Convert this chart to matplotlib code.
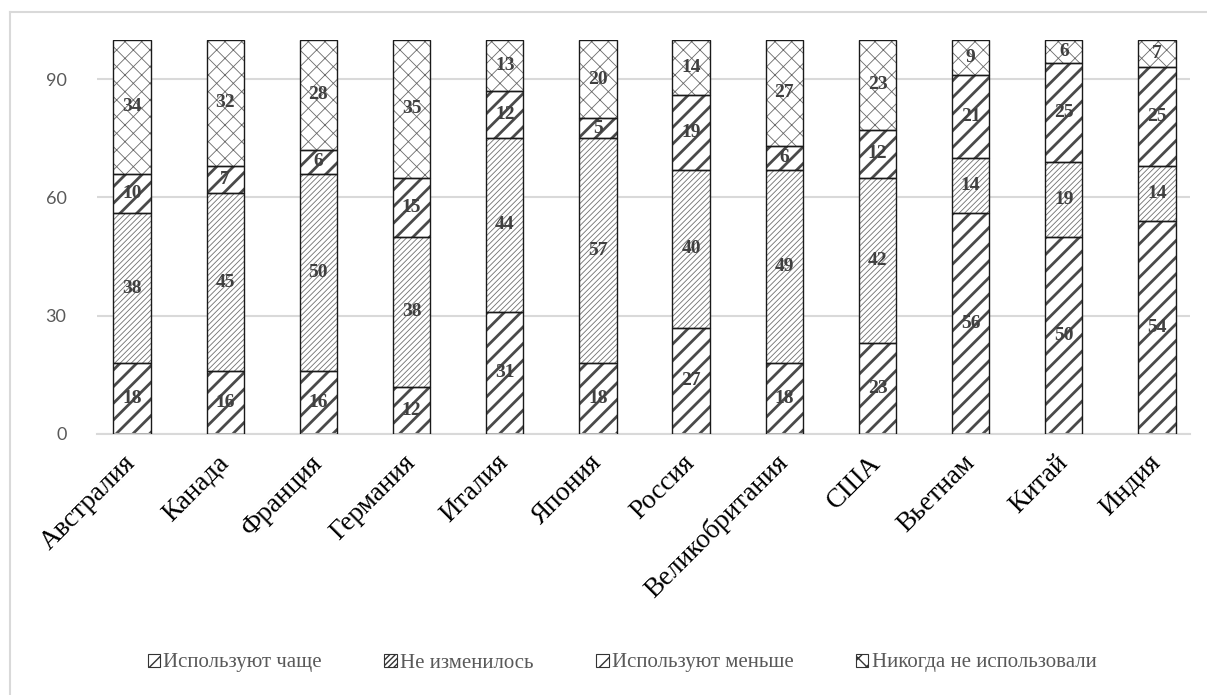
# -*- coding: utf-8 -*-
# stacked hatched bars: change in usage by country
import numpy as np
import matplotlib
matplotlib.use('Agg')
import matplotlib.pyplot as plt
import matplotlib.patches as mpatches
from matplotlib.lines import Line2D

countries = ['Австралия', 'Канада', 'Франция', 'Германия', 'Италия', 'Япония',
             'Россия', 'Великобритания', 'США', 'Вьетнам', 'Китай', 'Индия']
more_often = [18, 16, 16, 12, 31, 18, 27, 18, 23, 56, 50, 54]
unchanged = [38, 45, 50, 38, 44, 57, 40, 49, 42, 14, 19, 14]
less_often = [10, 7, 6, 15, 12, 5, 19, 6, 12, 21, 25, 25]
never_used = [34, 32, 28, 35, 13, 20, 14, 27, 23, 9, 6, 7]
series_names = ['Используют чаще', 'Не изменилось', 'Используют меньше',
                'Никогда не использовали']
y_ticks = [0, 30, 60, 90]

series = [more_often, unchanged, less_often, never_used]
hatches = ['//', '//////', '//', 'xx']
hatch_colors = ['#4a4a4a', '#707070', '#4a4a4a', '#6a6a6a']
hatch_widths = [2.0, 0.6, 2.0, 0.6]

serif = 'Liberation Serif'

fig = plt.figure(figsize=(12.07, 6.95), dpi=100)
ax = fig.add_axes([97/1207, 1-434/695, 1093/1207, (434-39.6)/695])

x = np.arange(len(countries))
width = 0.4
bottom = np.zeros(len(countries))
for vals, h, hc, hw in zip(series, hatches, hatch_colors, hatch_widths):
    vals = np.array(vals)
    bars = ax.bar(x, vals, width, bottom=bottom, color='white',
                  edgecolor=hc, linewidth=0, hatch=h, zorder=2)
    for b in bars:
        if hasattr(b, 'set_hatch_linewidth'):
            b.set_hatch_linewidth(hw)
    # outlines
    ax.bar(x, vals, width, bottom=bottom, fill=False, edgecolor='#1a1a1a',
           linewidth=1.0, zorder=3)
    for xi, v, b0 in zip(x, vals, bottom):
        ax.text(xi, b0 + v/2, str(v), ha='center', va='center', fontsize=14,
                fontweight='bold', family=serif, color='#404040', zorder=4)
    bottom = bottom + vals

ax.set_xlim(-0.376, 11.354)
ax.set_ylim(0, 100)
ax.set_yticks(y_ticks)
ax.set_yticklabels([str(t) for t in y_ticks], fontsize=13, family='Lato',
                   color='#595959')
ax.yaxis.grid(True, color='#d9d9d9', linewidth=1.5, zorder=0)
ax.set_axisbelow(True)
ax.tick_params(axis='y', length=0, pad=22)
ax.tick_params(axis='x', length=0, pad=18)
ax.set_xticks(x)
ax.set_xticklabels(countries, rotation=45, ha='right', va='center',
                   rotation_mode='anchor', fontsize=19.5, family=serif,
                   color='black')
for s in ['top', 'right', 'left']:
    ax.spines[s].set_visible(False)
ax.spines['bottom'].set_color('#d9d9d9')
ax.spines['bottom'].set_linewidth(1.5)

handles = []
for h in hatches:
    p = mpatches.Patch(facecolor='white', edgecolor='#333333', hatch=h,
                       linewidth=0.8)
    handles.append(p)
leg = fig.legend(handles, series_names, loc='center', ncol=4,
                 bbox_to_anchor=(622/1207, 1-663/695), frameon=False,
                 prop={'family': serif, 'size': 15}, handlelength=0.6,
                 handleheight=0.6, handletextpad=0.15, columnspacing=3.0)
for t in leg.get_texts():
    t.set_color('#595959')

# outer chart border (only left and top visible in the original)
fig.add_artist(Line2D([10/1207, 10/1207], [0, 1-12/695], color='#d9d9d9',
                      linewidth=1.5, transform=fig.transFigure))
fig.add_artist(Line2D([10/1207, 1], [1-12/695, 1-12/695], color='#d9d9d9',
                      linewidth=1.5, transform=fig.transFigure))

fig.savefig('out.png', dpi=100)
